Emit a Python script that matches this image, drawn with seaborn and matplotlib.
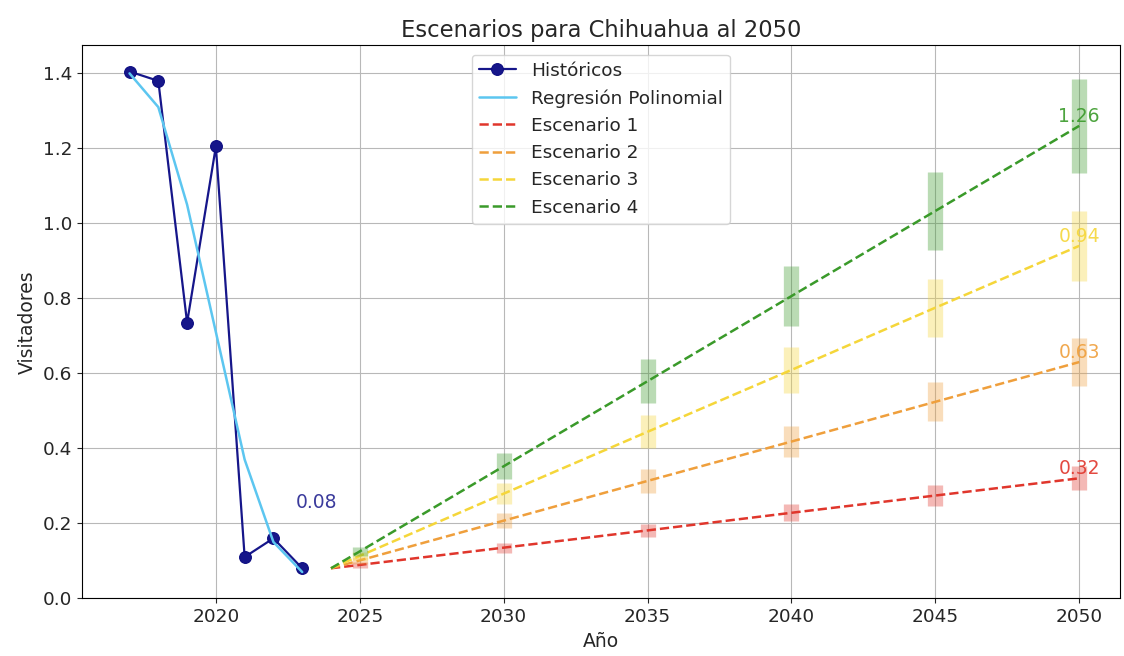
import matplotlib
matplotlib.use("Agg")
import matplotlib.pyplot as plt
import seaborn as sns
import numpy as np

# ---- data ----
hist_years = [2017, 2018, 2019, 2020, 2021, 2022, 2023]
hist_values = [1.405, 1.38, 0.735, 1.205, 0.11, 0.16, 0.08]
reg_values = [1.40, 1.31, 1.05, 0.71, 0.37, 0.15, 0.07]

scen_years = [2024, 2025, 2030, 2035, 2040, 2045, 2050]
scen1 = [0.08, 0.089, 0.135, 0.181, 0.228, 0.274, 0.32]
scen2 = [0.08, 0.101, 0.207, 0.313, 0.418, 0.524, 0.63]
scen3 = [0.08, 0.113, 0.279, 0.444, 0.609, 0.775, 0.94]
scen4 = [0.08, 0.125, 0.352, 0.579, 0.806, 1.033, 1.26]
scen_labels = ["Escenario 1", "Escenario 2", "Escenario 3", "Escenario 4"]
err_frac = 0.10

sns.set_style("ticks", {"axes.grid": True, "grid.color": "#b8b8b8"})
plt.rcParams['font.family'] = ['DejaVu Sans']

fig = plt.figure(figsize=(11.24, 6.56), dpi=100)
ax = fig.add_axes([0.073, 0.088, 0.923, 0.843])

sns.lineplot(x=hist_years, y=hist_values, marker='o', markersize=8.5, color='#16168a',
             markeredgecolor='#0a0a80', label='Históricos', ax=ax, linewidth=1.6)
sns.lineplot(x=hist_years, y=reg_values, color='#5cc6f0', label='Regresión Polinomial',
             ax=ax, linewidth=1.8)

colors = ['#e0362c', '#ef9f3c', '#f5d63a', '#3a9a2a']
for vals, lab, c in zip([scen1, scen2, scen3, scen4], scen_labels, colors):
    sns.lineplot(x=scen_years, y=vals, color=c, linestyle='--', label=lab, ax=ax, linewidth=1.8)
    yrs = scen_years[1:]
    v = np.array(vals[1:])
    ax.errorbar(yrs, v, yerr=v * err_frac, fmt='none', ecolor=c, elinewidth=11, alpha=0.35)
    ax.text(scen_years[-1], vals[-1], f"{vals[-1]:.2f}", color=c, fontsize=13.5,
            ha='center', va='bottom', alpha=0.9)

ax.text(2023.5, 0.255, f"{hist_values[-1]:.2f}", color='#3b3b9c', fontsize=13.5,
        ha='center', va='center')

ax.set_ylim(0, 1.475)
ax.set_xlim(2015.35, 2051.4)
ax.set_xticks([2020, 2025, 2030, 2035, 2040, 2045, 2050])
ax.tick_params(labelsize=13.3)
ax.set_title("Escenarios para Chihuahua al 2050", fontsize=16.3)
ax.set_xlabel("Año", fontsize=13.5)
ax.set_ylabel("Visitadores", fontsize=13.5)
for s in ax.spines.values():
    s.set_color('black')
ax.legend(loc='upper center', fontsize=13.3, framealpha=0.8)

fig.savefig("out.png", dpi=100)
